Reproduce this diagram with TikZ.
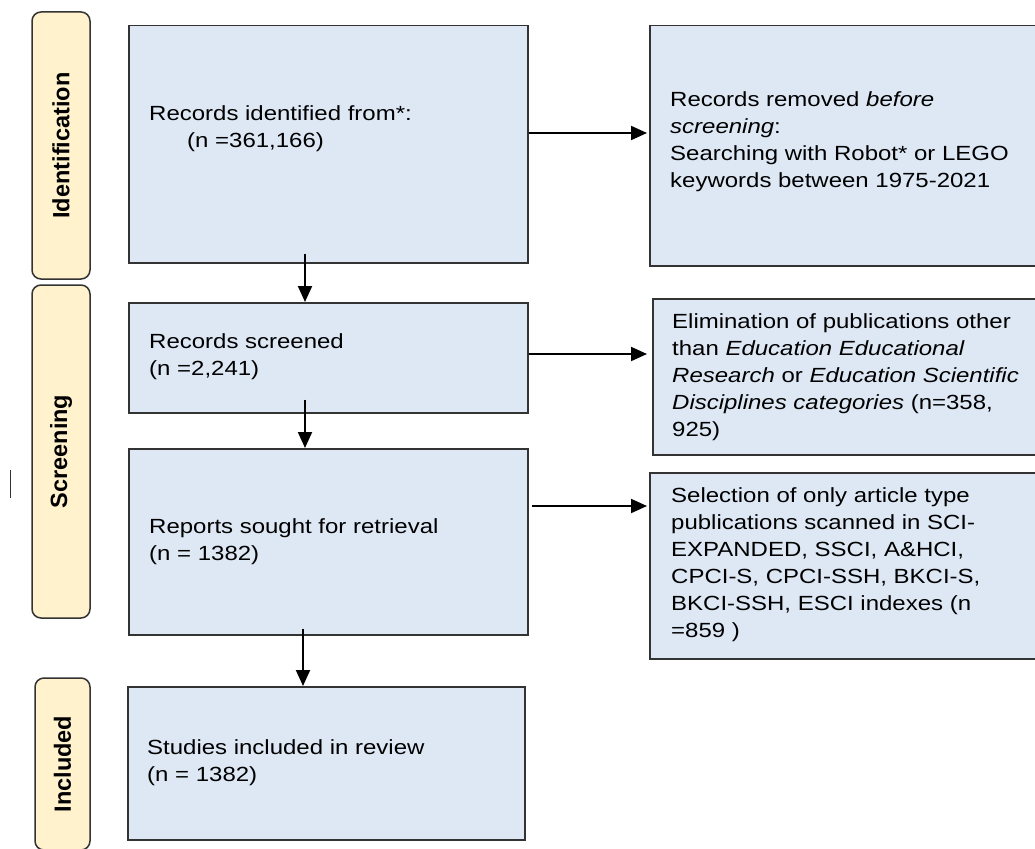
\documentclass[tikz,border=0pt]{standalone}
\usepackage{fontspec}
\setmainfont{Liberation Sans}[FakeStretch=1.17]
\newfontfamily\labfont{Liberation Sans}
\usetikzlibrary{arrows.meta,calc}
\definecolor{boxfill}{HTML}{DEE8F5}
\definecolor{labfill}{HTML}{FFF2CC}
\definecolor{edge}{HTML}{333333}
\begin{document}
\begin{tikzpicture}[x=1pt,y=-1pt,
 box/.style={draw=edge, fill=boxfill, line width=1.5pt, rectangle, inner sep=0pt, anchor=north west},
 lab/.style={draw=edge, fill=labfill, line width=1.5pt, rounded corners=9pt, rotate=90, font=\labfont\fontsize{23.5}{26}\selectfont\bfseries, inner sep=0pt},
 txt/.style={anchor=base west, align=left, inner sep=0pt, font=\fontsize{20.5}{27}\selectfont},
 arr/.style={-{Triangle[length=16pt,width=14pt]}, line width=2pt, draw=black}]
\useasboundingbox (0,0) rectangle (1035,848);
\clip (0,0) rectangle (1035,848);
% side labels
\node[lab, minimum width=267pt, minimum height=58pt] (L1) at (61,145.5) {Identification};
\node[lab, minimum width=333pt, minimum height=58pt] (L2) at (61,451.5) {Screening};
\node[lab, minimum width=172pt, minimum height=55pt] (L3) at (62.5,764) {Included};
\draw[line width=1.5pt, edge] (10.5,470) -- (10.5,498);
% main boxes
\node[box, minimum width=399pt, minimum height=237pt] (b1) at (128,25) {};
\node[box, minimum width=399pt, minimum height=110pt] (b2) at (128,302) {};
\node[box, minimum width=399pt, minimum height=186pt] (b3) at (128,448) {};
\node[box, minimum width=397pt, minimum height=153pt] (b4) at (127,686) {};
\node[box, minimum width=420pt, minimum height=240pt] (r1) at (649,25) {};
\node[box, minimum width=420pt, minimum height=156pt] (r2) at (652,298) {};
\node[box, minimum width=420pt, minimum height=186pt] (r3) at (649,472) {};
% texts (anchored at the baseline of the last line)
\node[txt] (t1) at (149,147) {Records identified from*:\\\hspace*{38pt}(n =361,166)};
\node[txt] (t2) at (149,375) {Records screened\\(n =2,241)};
\node[txt] (t3) at (149,560) {Reports sought for retrieval\\(n = 1382)};
\node[txt] (t4) at (147,781) {Studies included in review\\(n = 1382)};
\node[txt] (tr1) at (670,187) {Records removed \textit{before}\\\textit{screening}:\\Searching with Robot* or LEGO\\keywords between 1975-2021};
\node[txt] (tr2) at (672,436) {Elimination of publications other\\than \textit{Education Educational}\\\textit{Research} or \textit{Education Scientific}\\\textit{Disciplines categories} (n=358,\\925)};
\node[txt] (tr3) at (671,637) {Selection of only article type\\publications scanned in SCI-\\EXPANDED, SSCI, A\&HCI,\\CPCI-S, CPCI-SSH, BKCI-S,\\BKCI-SSH, ESCI indexes (n\\=859 )};
% arrows
\coordinate (ax) at (305,0);
\coordinate (ax3) at (303,0);
\coordinate (ay1) at (0,133);
\coordinate (ay2) at (0,354);
\coordinate (ay3) at (0,506);
\draw[arr] ([yshift=10pt]b1.south -| ax) -- (b2.north -| ax);
\draw[arr] ([yshift=14pt]b2.south -| ax) -- (b3.north -| ax);
\draw[arr] ([yshift=7pt]b3.south -| ax3) -- (b4.north -| ax3);
\draw[arr] (b1.east |- ay1) -- ([xshift=-2pt]r1.west |- ay1);
\draw[arr] (b2.east |- ay2) -- ([xshift=-5pt]r2.west |- ay2);
\draw[arr] ([xshift=3pt]b3.east |- ay3) -- ([xshift=-2pt]r3.west |- ay3);
\end{tikzpicture}
\end{document}
